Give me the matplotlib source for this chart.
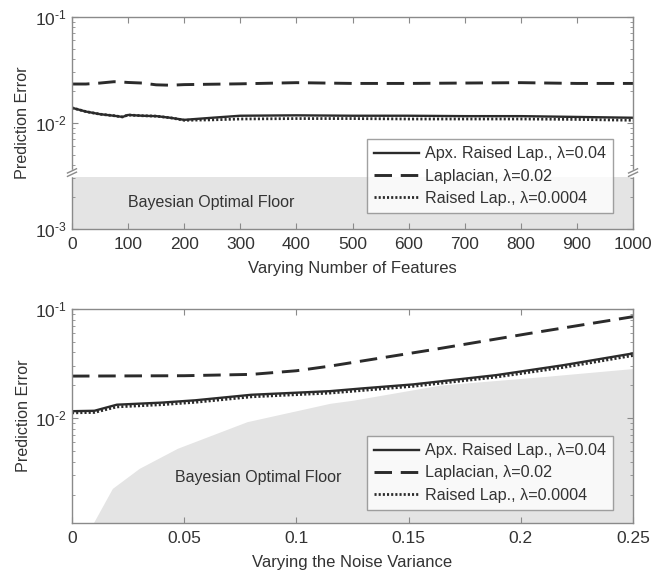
import matplotlib
matplotlib.use("Agg")
import matplotlib.pyplot as plt
from matplotlib.ticker import FuncFormatter
import numpy as np

plt.rcParams["font.family"] = ["Liberation Sans", "DejaVu Sans"]
plt.rcParams["mathtext.fontset"] = "custom"
plt.rcParams["mathtext.rm"] = "Liberation Sans"
plt.rcParams["mathtext.it"] = "Liberation Sans:italic"

# --- varying number of features ---
feat_x = [0, 25, 50, 75, 90, 100, 125, 150, 175, 200, 250, 300, 400, 500, 600, 700, 800, 900, 1000]
feat_apx = [0.0139, 0.0128, 0.0121, 0.0117, 0.0114, 0.0119, 0.0117, 0.0116, 0.0112, 0.0107,
            0.0112, 0.0117, 0.0118, 0.0117, 0.0117, 0.0116, 0.0116, 0.0114, 0.0112]
feat_lap = [0.0233, 0.0233, 0.0238, 0.0245, 0.0243, 0.0241, 0.0238, 0.0229, 0.0227, 0.0230,
            0.0232, 0.0234, 0.0240, 0.0236, 0.0236, 0.0238, 0.0240, 0.0236, 0.0236]
feat_raised = [0.0139, 0.0128, 0.0121, 0.0117, 0.0114, 0.0119, 0.0117, 0.0116, 0.0112, 0.0106,
               0.0107, 0.0109, 0.0110, 0.0110, 0.0109, 0.0109, 0.0109, 0.0108, 0.0106]
feat_floor = 3.08e-3

# --- varying noise variance ---
noise_x = [0, 0.01, 0.02, 0.04, 0.055, 0.08, 0.115, 0.13, 0.152, 0.189, 0.219, 0.25]
noise_apx = [0.0116, 0.0117, 0.0133, 0.0139, 0.0146, 0.0164, 0.0177, 0.0188, 0.0204, 0.0248, 0.0306, 0.0392]
noise_raised = [0.0112, 0.0113, 0.0127, 0.0133, 0.0140, 0.0157, 0.0170, 0.0180, 0.0196, 0.0238, 0.0292, 0.0375]
noise_lap_x = [0, 0.05, 0.08, 0.1, 0.115, 0.1595, 0.204, 0.25]
noise_lap = [0.0243, 0.0245, 0.0252, 0.0272, 0.0300, 0.0420, 0.0598, 0.0850]
floor_x = [0.0095, 0.018, 0.030, 0.047, 0.078, 0.115, 0.125, 0.164, 0.2085, 0.25]
floor_y = [1.1e-3, 2.28e-3, 3.48e-3, 5.31e-3, 9.3e-3, 0.0137, 0.0146, 0.0201, 0.0239, 0.0285]

labels = ["Apx. Raised Lap., λ=0.04", "Laplacian, λ=0.02", "Raised Lap., λ=0.0004"]

line_col = "#2b2b2b"
spine_col = "#8a8a8a"
text_col = "#333333"
floor_col = "#e4e4e4"


def pow10(v, pos):
    # decade labels with a short hyphen in the exponent
    e = int(round(np.log10(v)))
    return r"$\mathdefault{10^{\text{-%d}}}$" % (-e)


fig = plt.figure(figsize=(6.64, 5.71), dpi=100)
ax1 = fig.add_axes([0.1084, 0.599, 0.845, 0.3713])
ax2 = fig.add_axes([0.1084, 0.0841, 0.845, 0.3748])


def style_axis(ax):
    ax.set_yscale("log")
    ax.yaxis.set_major_formatter(FuncFormatter(pow10))
    for s in ax.spines.values():
        s.set_color(spine_col)
        s.set_linewidth(1.0)
    ax.tick_params(which="both", direction="in", top=True, right=True,
                   color=spine_col, labelcolor=text_col, labelsize=12.5)
    ax.tick_params(which="major", length=4)
    ax.tick_params(which="minor", length=2.5)
    ax.tick_params(axis="x", pad=6)
    ax.tick_params(axis="y", pad=4)
    ax.set_ylabel("Prediction Error", fontsize=11.6, color=text_col, labelpad=3)


def draw_lines(ax, x, apx, lx, lap, rx, raised):
    h1, = ax.plot(x, apx, color=line_col, lw=1.7, solid_joinstyle="round")
    h2, = ax.plot(lx, lap, color=line_col, lw=2.1, linestyle=(0, (6, 3)))
    h3, = ax.plot(rx, raised, color=line_col, lw=2.0, linestyle=(0, (0.75, 0.75)))
    return [h1, h2, h3]


def add_legend(ax, handles, anchor):
    leg = ax.legend(handles, labels, loc="lower right", bbox_to_anchor=anchor,
                    fontsize=11.6, frameon=True, fancybox=False, handlelength=2.8,
                    handletextpad=0.35, borderpad=0.45, labelspacing=0.45,
                    borderaxespad=0)
    leg.get_frame().set_edgecolor(spine_col)
    leg.get_frame().set_linewidth(1.0)
    for t in leg.get_texts():
        t.set_color(text_col)
    return leg


# top panel
style_axis(ax1)
ax1.fill_between([0, 1000], 1e-4, feat_floor, color=floor_col, lw=0)
handles = draw_lines(ax1, feat_x, feat_apx, feat_x, feat_lap, feat_x, feat_raised)
ax1.set_xlim(0, 1000)
ax1.set_ylim(1e-3, 1e-1)
ax1.set_xticks(np.arange(0, 1001, 100))
ax1.set_xlabel("Varying Number of Features", fontsize=12, color=text_col, labelpad=6)
ax1.text(248, 1.79e-3, "Bayesian Optimal Floor", fontsize=11.5, color=text_col,
         ha="center", va="center")
add_legend(ax1, handles, (0.964, 0.075))

# axis break marks on both spines
for xb in (0, 1):
    ax1.plot([xb, xb], [0.255, 0.275], transform=ax1.transAxes, color="white",
             lw=2.5, clip_on=False, zorder=5)
    for dy in (0.0, 0.016):
        ax1.plot([xb - 0.008, xb + 0.008], [0.248 + dy, 0.268 + dy],
                 transform=ax1.transAxes, color=spine_col, lw=1.0,
                 clip_on=False, zorder=6)

# bottom panel
style_axis(ax2)
ax2.fill_between(floor_x, 1e-4, floor_y, color=floor_col, lw=0)
handles = draw_lines(ax2, noise_x, noise_apx, noise_lap_x, noise_lap, noise_x, noise_raised)
ax2.set_xlim(0, 0.25)
ax2.set_ylim(1.1e-3, 1e-1)
ax2.set_xticks([0, 0.05, 0.1, 0.15, 0.2, 0.25])
ax2.set_xticklabels(["0", "0.05", "0.1", "0.15", "0.2", "0.25"])
ax2.set_xlabel("Varying the Noise Variance", fontsize=12, color=text_col, labelpad=6)
ax2.text(0.083, 2.88e-3, "Bayesian Optimal Floor", fontsize=11.5, color=text_col,
         ha="center", va="center")
add_legend(ax2, handles, (0.964, 0.061))

fig.savefig("out.png", dpi=100)
